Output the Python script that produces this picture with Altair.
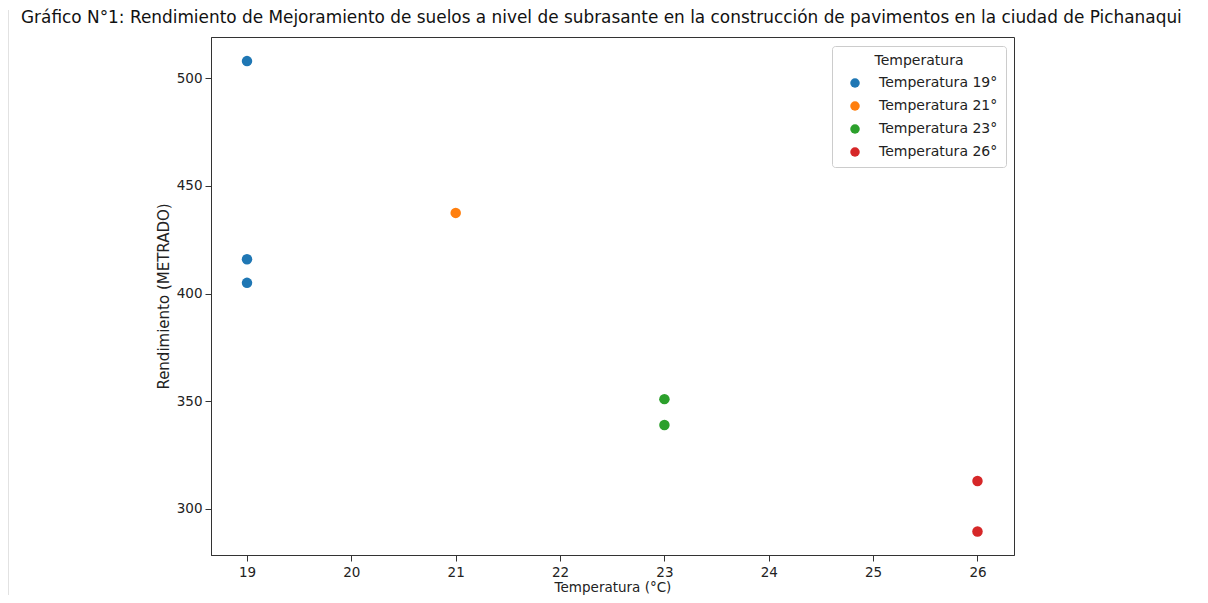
import altair as alt
import pandas as pd

temperaturas = [19, 19, 19, 21, 23, 23, 26, 26]
rendimientos = [508, 416, 405, 437.5, 351, 339, 313, 289.5]
grupos = ["Temperatura 19°", "Temperatura 19°", "Temperatura 19°", "Temperatura 21°",
          "Temperatura 23°", "Temperatura 23°", "Temperatura 26°", "Temperatura 26°"]
categorias = ["Temperatura 19°", "Temperatura 21°", "Temperatura 23°", "Temperatura 26°"]
colores = ["#1f77b4", "#ff7f0e", "#2ca02c", "#d62728"]
x_ticks = [19, 20, 21, 22, 23, 24, 25, 26]
y_ticks = [300, 350, 400, 450, 500]
titulo = ["Gráfico N°1: Rendimiento de Mejoramiento de suelos a nivel de subrasante en la construcción de pavimentos en la ciudad de Pichanaqui"]

df = pd.DataFrame({"Temperatura": temperaturas, "Rendimiento": rendimientos, "Grupo": grupos})
df_titulo = pd.DataFrame({"t": titulo})

FONT = "DejaVu Sans"

points = alt.Chart(df).mark_circle(size=110, opacity=1).encode(
    x=alt.X("Temperatura:Q",
            scale=alt.Scale(domain=[18.655, 26.35], nice=False, zero=False),
            axis=alt.Axis(values=x_ticks, title="Temperatura (°C)", format="d",
                          titleFontSize=13.5, labelPadding=4, titlePadding=2)),
    y=alt.Y("Rendimiento:Q",
            scale=alt.Scale(domain=[278.6, 519.2], nice=False, zero=False),
            axis=alt.Axis(values=y_ticks, title="Rendimiento (METRADO)",
                          titleFontSize=15, titlePadding=5)),
    color=alt.Color("Grupo:N",
                    scale=alt.Scale(domain=categorias, range=colores),
                    legend=alt.Legend(title="Temperatura", orient="none",
                                      legendX=621, legendY=9)),
)

border = alt.Chart(df).mark_rule(color="#e2e2e2", strokeWidth=1.5).encode(
    x=alt.value(-203), y=alt.value(-27), y2=alt.value(566)
)

title = alt.Chart(df_titulo).mark_text(
    align="left", baseline="middle", font=FONT, fontSize=16.9, color="#111"
).encode(text="t:N", x=alt.value(-190), y=alt.value(-19))

chart = alt.layer(border, points, title).properties(
    width=803, height=518,
    padding={"left": 203, "top": 29, "right": 186, "bottom": 40},
    autosize=alt.AutoSizeParams(type="none"),
).configure_view(
    stroke="#333", strokeWidth=1
).configure_axis(
    labelFont=FONT, titleFont=FONT, labelFontSize=13.5, titleFontSize=13.5,
    titleFontWeight="normal", labelColor="#222", titleColor="#222",
    domainColor="#333", tickColor="#333", tickSize=6, grid=False,
    labelPadding=3
).configure_legend(
    titleFont=FONT, labelFont=FONT, titleFontSize=14, labelFontSize=14,
    titleFontWeight="normal", titleAnchor="middle", titleColor="#222",
    labelColor="#222", strokeColor="#ccc", fillColor="white", padding=8,
    cornerRadius=3, symbolSize=90, symbolType="circle", rowPadding=9,
    labelOffset=17, symbolOffset=8, titlePadding=8
)

chart.save("out.html", embed_options={"renderer": "svg", "actions": False})
